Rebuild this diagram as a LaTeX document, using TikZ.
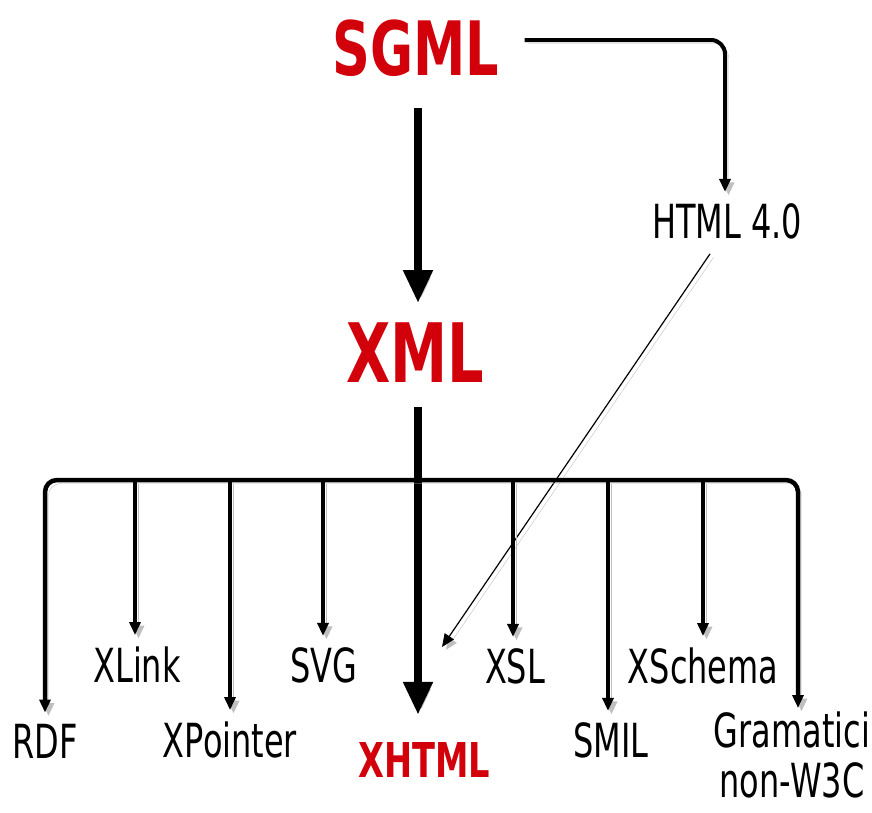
\documentclass[tikz,border=0pt]{standalone}
\usepackage{fontspec}
\usetikzlibrary{arrows.meta}
\newfontfamily\titlefont[FakeStretch=0.7]{DejaVu Sans}
\newfontfamily\lblfont[FakeStretch=0.68]{DejaVu Sans}
\definecolor{sgred}{RGB}{210,0,10}
\begin{document}
\begin{tikzpicture}[x=1pt,y=-1pt,
  title/.style={text=sgred, inner sep=0pt, anchor=base},
  lbl/.style={font=\lblfont\fontsize{47}{57}\selectfont, inner xsep=0pt, inner ysep=11pt, anchor=base},
  shadowed/.style={preaction={draw=black!25, transform canvas={shift={(3.5pt,-3.5pt)}}}},
  smallhead/.style={-{Triangle[width=11pt,length=13pt]}},
  bigarrow/.style={shadowed, line width=8pt, -{Triangle[width=28pt,length=33pt]}},
  branch/.style={shadowed, line width=3.5pt, smallhead},
  bus/.style={shadowed, line width=4.5pt, rounded corners=12pt},
]
\useasboundingbox (0,0) rectangle (872,812);

% titles
\node[title, font=\titlefont\bfseries\fontsize{75}{75}\selectfont] (sgml) at (416,75) {SGML};
\node[title, font=\titlefont\bfseries\fontsize{82}{82}\selectfont] (xml) at (415,382) {XML};
\node[title, font=\titlefont\bfseries\fontsize{48}{48}\selectfont] (xhtml) at (424,777) {XHTML};

% labels
\node[lbl] (html) at (727,238) {HTML 4.0};
\node[lbl] (rdf) at (45,758) {RDF};
\node[lbl] (xlink) at (137,682) {XLink};
\node[lbl] (xpointer) at (230,757) {XPointer};
\node[lbl] (svg) at (324,682) {SVG};
\node[lbl] (xsl) at (515,683) {XSL};
\node[lbl] (smil) at (611,757) {SMIL};
\node[lbl] (xschema) at (703,683) {XSchema};
\node[lbl, font=\lblfont\fontsize{47}{50}\selectfont, anchor=north, align=center, inner ysep=0pt]
  (gram) at (792,712) {Gramatici\\non-W3C};

% coordinates
\coordinate (trunk) at (418,0);
\coordinate (hcorner) at (725,40);
\coordinate (busL) at (45,480);
\coordinate (busR) at (798,480);
\coordinate (busEndR) at (798,708);
\coordinate (jxlink) at (135,480);
\coordinate (jxpointer) at (230,480);
\coordinate (jsvg) at (323,480);
\coordinate (jxsl) at (513,480);
\coordinate (jsmil) at (608,480);
\coordinate (jxschema) at (703,480);
\coordinate (htmlend) at (442,647);

% SGML -> XML -> XHTML
\draw[bigarrow, shorten <=32pt, shorten >=19pt] (sgml.south -| trunk) -- (xml.north -| trunk);
\draw[bigarrow, shorten <=25pt, shorten >=27pt] (xml.south -| trunk) -- (xhtml.north -| trunk);

% SGML -> HTML 4.0
\draw[shadowed, line width=4pt, rounded corners=14pt, smallhead, shorten <=25pt]
  (sgml.east |- hcorner) -- (hcorner) -- (html.north -| hcorner);

% HTML 4.0 -> XHTML
\draw[shadowed, line width=1.2pt, smallhead] ([xshift=-17pt,yshift=-4pt]html.south) -- (htmlend);

% bus
\draw[bus, {Triangle[width=11pt,length=13pt]}-{Triangle[width=11pt,length=13pt]}]
  (busL |- rdf.north) -- (busL) -- (busR) -- (busEndR);
\draw[branch] (jxlink) -- (jxlink |- xlink.north);
\draw[branch] (jxpointer) -- (jxpointer |- xpointer.north);
\draw[branch] (jsvg) -- (jsvg |- svg.north);
\draw[branch] (jxsl) -- (jxsl |- xsl.north);
\draw[branch] (jsmil) -- (jsmil |- smil.north);
\draw[branch] (jxschema) -- (jxschema |- xschema.north);
\end{tikzpicture}
\end{document}
